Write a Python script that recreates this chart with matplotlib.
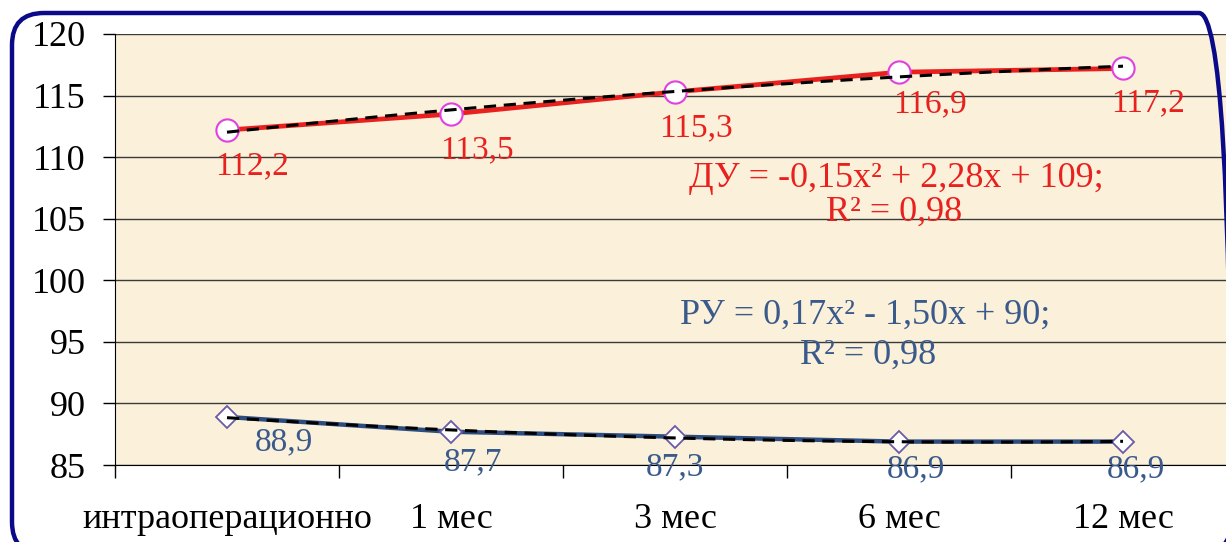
import matplotlib.pyplot as plt
import numpy as np
from matplotlib.patches import FancyBboxPatch

plt.rcParams['font.family'] = ['Liberation Serif', 'DejaVu Serif']

categories = ["интраоперационно", "1 мес", "3 мес", "6 мес", "12 мес"]
du_values = [112.2, 113.5, 115.3, 116.9, 117.2]
ru_values = [88.9, 87.7, 87.3, 86.9, 86.9]
du_labels = ["112,2", "113,5", "115,3", "116,9", "117,2"]
ru_labels = ["88,9", "87,7", "87,3", "86,9", "86,9"]
du_eq = ["ДУ = -0,15x² + 2,28x + 109;", "R² = 0,98"]
ru_eq = ["РУ = 0,17x² - 1,50x + 90;", "R² = 0,98"]

W, H = 1226, 542
fig = plt.figure(figsize=(W / 100, H / 100), dpi=100)

# background axes in pixel units for the rounded navy frame
bg = fig.add_axes([0, 0, 1, 1], zorder=5)
bg.set_xlim(0, W)
bg.set_ylim(0, H)
bg.axis("off")
bg.patch.set_alpha(0)
bg.add_patch(FancyBboxPatch((12, -12), 1219, 541,
                            boxstyle="round,pad=0,rounding_size=32",
                            fc="none", ec="#0b0b8a", lw=3.2))

ax = fig.add_axes([115 / W, (H - 465) / H, 1120 / W, 431 / H])
ax.set_facecolor("#fbf0d9")

x = np.arange(len(categories))
red = "#e8201e"
blue = "#2d4d7e"
blue_txt = "#3a5a8c"

ax.plot(x, du_values, color=red, lw=3.4, zorder=3)
ax.plot(x, du_values, ls="none", marker="o", ms=16, mfc="white",
        mec="#e040e0", mew=1.5, zorder=4)
ax.plot(x, ru_values, color=blue, lw=3.2, zorder=3)
ax.plot(x, ru_values, ls="none", marker="D", ms=11, mfc="white",
        mec="#6a5aa8", mew=1.3, zorder=4)

# polynomial trend lines (order 2) fitted on the data
xs = np.linspace(0, len(categories) - 1, 100)
for vals in (du_values, ru_values):
    c = np.polyfit(x + 1, vals, 2)
    ax.plot(xs, np.polyval(c, xs + 1), color="black", lw=2.2,
            ls=(0, (4, 2.5)), zorder=5)

du_off = [(18, -26), (19, -26), (15, -26), (22, -23), (18, -25)]
ru_off = [(41, -18), (16, -22), (0, -22), (12, -20), (9, -20)]
for i in range(len(categories)):
    ax.annotate(du_labels[i], (x[i], du_values[i]), xytext=du_off[i],
                textcoords="offset points", ha="center", va="center",
                color=red, fontsize=24, zorder=6)
    ax.annotate(ru_labels[i], (x[i], ru_values[i]), xytext=ru_off[i],
                textcoords="offset points", ha="center", va="center",
                color=blue_txt, fontsize=24, zorder=6, clip_on=False)

ax.text(2.99, 108.3, du_eq[0], ha="center", va="center", color=red,
        fontsize=26, zorder=6)
ax.text(2.98, 105.5, du_eq[1], ha="center", va="center", color=red,
        fontsize=26, zorder=6)
ax.text(2.85, 97.2, ru_eq[0], ha="center", va="center", color=blue_txt,
        fontsize=26, zorder=6)
ax.text(2.86, 93.9, ru_eq[1], ha="center", va="center", color=blue_txt,
        fontsize=26, zorder=6)

ax.set_xlim(-0.5, len(categories) - 0.5)
ax.set_ylim(85, 120)
ax.set_yticks(np.arange(85, 121, 5))
ax.yaxis.grid(True, color="#3a3a3a", lw=1)
ax.set_axisbelow(True)
ax.tick_params(axis="y", labelsize=26, length=9, width=1, pad=12)

ax.set_xticks(x)
ax.set_xticklabels(categories)
ax.set_xticks(np.arange(-0.5, len(categories), 1), minor=True)
ax.tick_params(axis="x", which="major", length=0, labelsize=26, pad=27)
ax.tick_params(axis="x", which="minor", length=9, width=1)

for s in ("top", "right"):
    ax.spines[s].set_visible(False)
ax.spines["left"].set_color("black")
ax.spines["bottom"].set_color("black")

fig.savefig("out.png", dpi=100)
